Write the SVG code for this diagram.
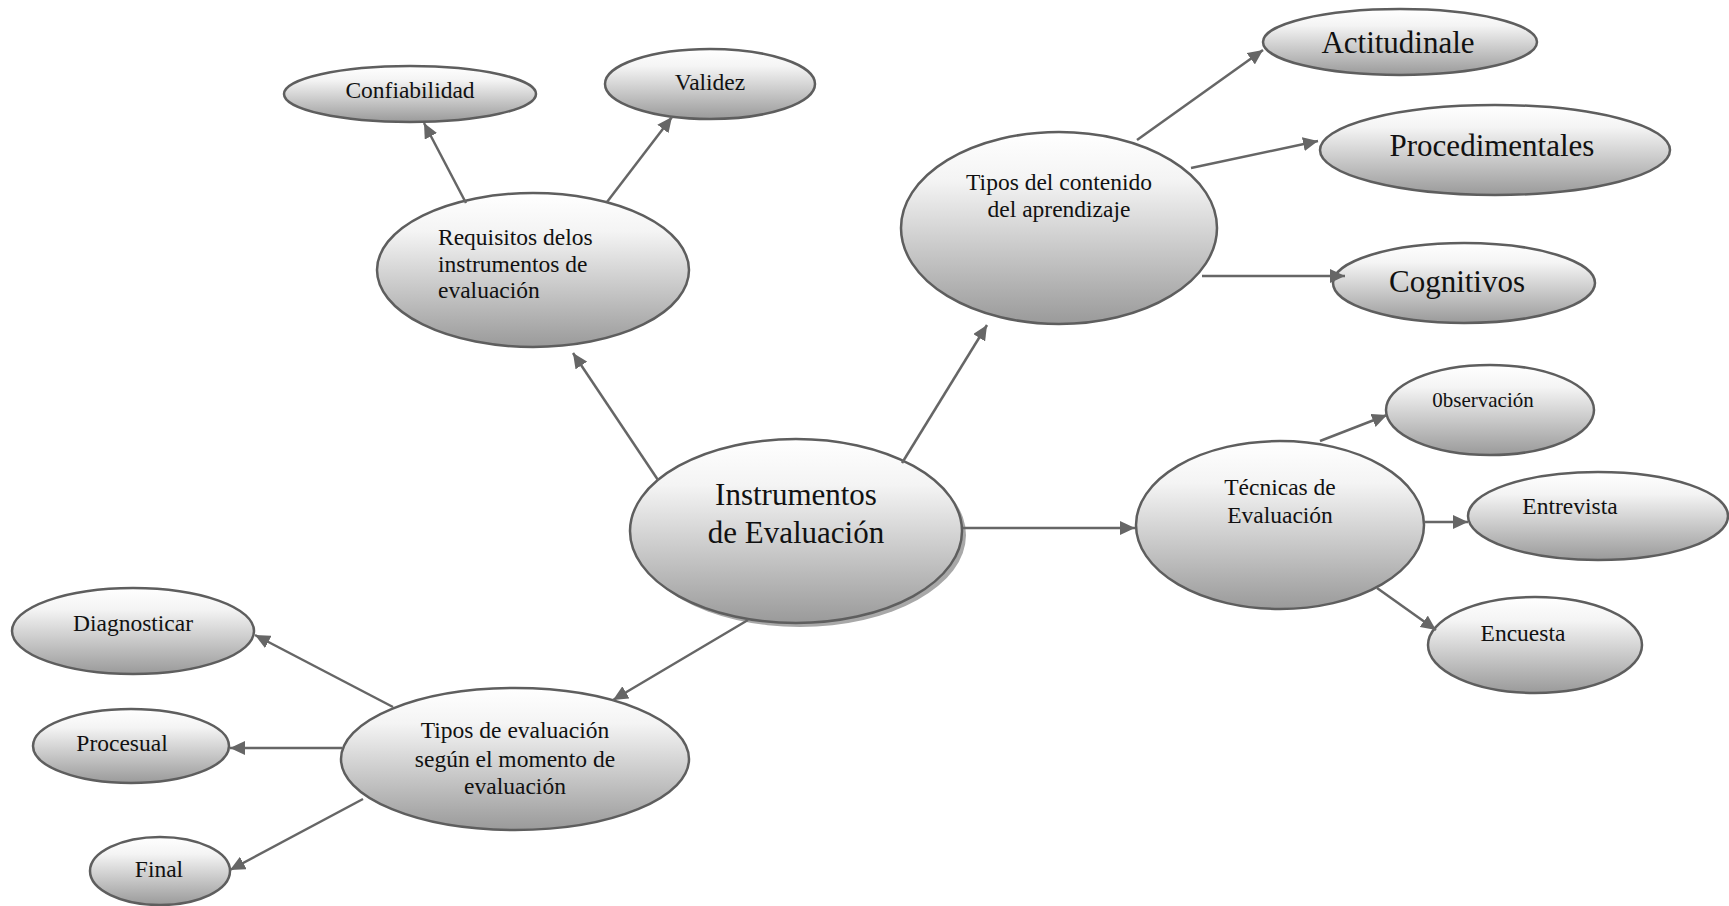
<svg xmlns="http://www.w3.org/2000/svg" width="1729" height="906" viewBox="0 0 1729 906">
<defs>
<linearGradient id="g" x1="0" y1="0" x2="0" y2="1">
<stop offset="0" stop-color="#ffffff"/>
<stop offset="0.25" stop-color="#f4f4f4"/>
<stop offset="1" stop-color="#9a9a9a"/>
</linearGradient>
<marker id="arr" markerUnits="userSpaceOnUse" markerWidth="16" markerHeight="14" refX="15" refY="7" orient="auto">
<path d="M0,0 L15,7 L0,14 z" fill="#666666"/>
</marker>
<style>
.n{fill:url(#g);stroke:#5e5e5e;stroke-width:2.5}
.t{font-family:"Liberation Serif","Times New Roman",serif;fill:#111;text-anchor:middle}
.m{font-size:23.5px}
.l{font-size:31px}
.c{stroke:#666666;stroke-width:2.5;fill:none;marker-end:url(#arr)}
</style>
</defs>
<rect width="1729" height="906" fill="#ffffff"/>

<g id="central">
<ellipse cx="800" cy="535" rx="166" ry="92" fill="#a8a8a8"/>
<ellipse class="n" cx="796" cy="531" rx="166" ry="92"/>
<text class="t l" x="796" y="505">Instrumentos</text>
<text class="t l" x="796" y="543">de Evaluación</text>
</g>

<g id="requisitos">
<ellipse class="n" cx="533" cy="270" rx="156" ry="77"/>
<text class="t m" x="438" y="245" style="text-anchor:start">Requisitos delos</text>
<text class="t m" x="438" y="272" style="text-anchor:start">instrumentos de</text>
<text class="t m" x="438" y="298" style="text-anchor:start">evaluación</text>
</g>

<g id="confiabilidad">
<ellipse class="n" cx="410" cy="94" rx="126" ry="28"/>
<text class="t m" x="410" y="98">Confiabilidad</text>
</g>

<g id="validez">
<ellipse class="n" cx="710" cy="84" rx="105" ry="35"/>
<text class="t m" x="710" y="90">Validez</text>
</g>

<g id="tipos-contenido">
<ellipse class="n" cx="1059" cy="228" rx="158" ry="96"/>
<text class="t m" x="1059" y="190">Tipos del contenido</text>
<text class="t m" x="1059" y="217">del aprendizaje</text>
</g>

<g id="actitudinale">
<ellipse class="n" cx="1400" cy="42" rx="137" ry="33"/>
<text class="t l" x="1398" y="53">Actitudinale</text>
</g>

<g id="procedimentales">
<ellipse class="n" cx="1495" cy="150" rx="175" ry="45"/>
<text class="t l" x="1492" y="156">Procedimentales</text>
</g>

<g id="cognitivos">
<ellipse class="n" cx="1464" cy="283" rx="131" ry="40"/>
<text class="t l" x="1457" y="292">Cognitivos</text>
</g>

<g id="tecnicas">
<ellipse class="n" cx="1280" cy="525" rx="144" ry="84"/>
<text class="t m" x="1280" y="495">Técnicas de</text>
<text class="t m" x="1280" y="523">Evaluación</text>
</g>

<g id="observacion">
<ellipse class="n" cx="1490" cy="410" rx="104" ry="45"/>
<text class="t" style="font-size:21px" x="1483" y="407">0bservación</text>
</g>

<g id="entrevista">
<ellipse class="n" cx="1598" cy="516" rx="130" ry="44"/>
<text class="t m" x="1570" y="514">Entrevista</text>
</g>

<g id="encuesta">
<ellipse class="n" cx="1535" cy="645" rx="107" ry="48"/>
<text class="t m" x="1523" y="641">Encuesta</text>
</g>

<g id="tipos-evaluacion">
<ellipse class="n" cx="515" cy="759" rx="174" ry="71"/>
<text class="t m" x="515" y="738">Tipos de evaluación</text>
<text class="t m" x="515" y="767">según el momento de</text>
<text class="t m" x="515" y="794">evaluación</text>
</g>

<g id="diagnosticar">
<ellipse class="n" cx="133" cy="631" rx="121" ry="43"/>
<text class="t m" x="133" y="631">Diagnosticar</text>
</g>

<g id="procesual">
<ellipse class="n" cx="131" cy="746" rx="98" ry="37"/>
<text class="t m" x="122" y="751">Procesual</text>
</g>

<g id="final">
<ellipse class="n" cx="160" cy="871" rx="70" ry="34"/>
<text class="t m" x="159" y="877">Final</text>
</g>

<g id="connectors">
<line class="c" x1="658" y1="480" x2="573" y2="353"/>
<line class="c" x1="466" y1="203" x2="424" y2="123"/>
<line class="c" x1="607" y1="202" x2="672" y2="117"/>
<line class="c" x1="902" y1="463" x2="987" y2="325"/>
<line class="c" x1="1137" y1="140" x2="1263" y2="50"/>
<line class="c" x1="1191" y1="168" x2="1318" y2="141"/>
<line class="c" x1="1202" y1="276" x2="1345" y2="276"/>
<line class="c" x1="963" y1="528" x2="1135" y2="528"/>
<line class="c" x1="1320" y1="441" x2="1387" y2="415"/>
<line class="c" x1="1424" y1="522" x2="1468" y2="522"/>
<line class="c" x1="1377" y1="588" x2="1436" y2="630"/>
<line class="c" x1="748" y1="620" x2="613" y2="700"/>
<line class="c" x1="393" y1="707" x2="255" y2="635"/>
<line class="c" x1="342" y1="748" x2="230" y2="748"/>
<line class="c" x1="363" y1="799" x2="230" y2="870"/>
</g>
</svg>
